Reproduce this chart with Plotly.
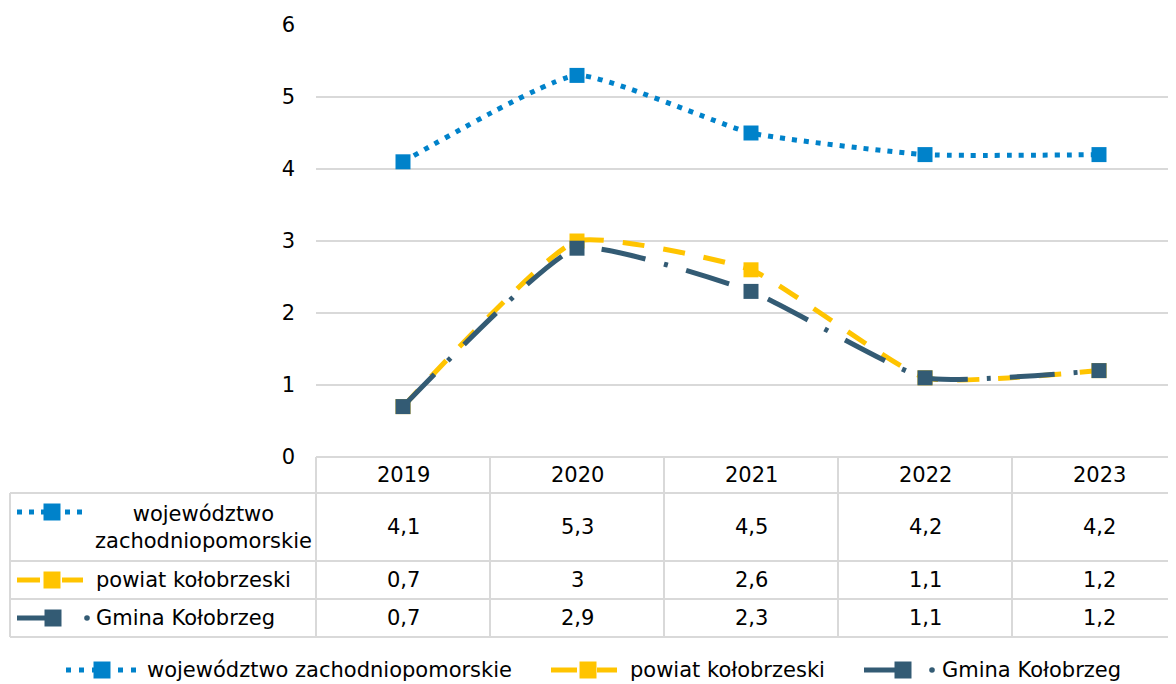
import plotly.graph_objects as go

# ---------------- data ----------------
years = ["2019", "2020", "2021", "2022", "2023"]
series_names = ["województwo zachodniopomorskie", "powiat kołobrzeski", "Gmina Kołobrzeg"]
table_labels = ["województwo<br>zachodniopomorskie", "powiat kołobrzeski", "Gmina Kołobrzeg"]
woj = [4.1, 5.3, 4.5, 4.2, 4.2]
powiat = [0.7, 3.0, 2.6, 1.1, 1.2]
gmina = [0.7, 2.9, 2.3, 1.1, 1.2]
y_ticks = [0, 1, 2, 3, 4, 5, 6]

# ---------------- styles ----------------
FONT = "DejaVu Sans"
FS = 21
BLUE = "#0082CA"
YELLOW = "#FFC400"
DARK = "#335B74"
GRID = "#D9D9D9"

OFF = 8  # page body margin
W, H = 1176 - OFF, 684 - OFF
L, R, T, B = 316 - OFF, 0, 25 - OFF, 227
PW, PH = W - L - R, H - T - B
CAT_PX = 174.0
XR = [-0.5, -0.5 + PW / CAT_PX]

# helpers take coordinates in screen pixels (page)
def px(x):
    return (x - OFF - L) / PW


def py(y):
    return (T + PH - (y - OFF)) / PH


def cat_paper(i):
    return (i - XR[0]) / (XR[1] - XR[0])


def cat_px(i):
    return OFF + L + (i - XR[0]) * CAT_PX


def fmt(v):
    return f"{v:g}".replace(".", ",")


series = [woj, powiat, gmina]
colors = [BLUE, YELLOW, DARK]
dashes = ["5px,7px", "22px,19px", "45px,19px,4px,19px"]

fig = go.Figure()
for name, vals, c, d in zip(series_names, series, colors, dashes):
    fig.add_trace(go.Scatter(
        x=years, y=vals, name=name, mode="lines+markers",
        line=dict(color=c, width=5, dash=d, shape="spline", smoothing=0.45),
        marker=dict(symbol="square", size=15, color=c),
        showlegend=False, cliponaxis=False,
    ))

shapes = []
annotations = []


def hline(x0, x1, y, color=GRID, width=2):
    shapes.append(dict(type="line", xref="paper", yref="paper",
                       x0=px(x0), x1=px(x1), y0=py(y), y1=py(y),
                       line=dict(color=color, width=width)))


def vline(x, y0, y1, color=GRID, width=2):
    shapes.append(dict(type="line", xref="paper", yref="paper",
                       x0=px(x), x1=px(x), y0=py(y0), y1=py(y1),
                       line=dict(color=color, width=width)))


def seg(x0, x1, y, color, width=5, dash="solid"):
    shapes.append(dict(type="line", xref="paper", yref="paper",
                       x0=px(x0), x1=px(x1), y0=py(y), y1=py(y),
                       line=dict(color=color, width=width, dash=dash)))


def square(cx, cy, color, s=17):
    shapes.append(dict(type="rect", xref="paper", yref="paper",
                       x0=px(cx - s / 2), x1=px(cx + s / 2),
                       y0=py(cy + s / 2), y1=py(cy - s / 2),
                       fillcolor=color, line=dict(width=0)))


def dot(cx, cy, color, r=2.8):
    shapes.append(dict(type="circle", xref="paper", yref="paper",
                       x0=px(cx - r), x1=px(cx + r), y0=py(cy + r), y1=py(cy - r),
                       fillcolor=color, line=dict(width=0)))


def text_at(xp, y, t, anchor="left", align="left"):
    annotations.append(dict(xref="paper", yref="paper", x=xp, y=py(y), text=t,
                            showarrow=False, xanchor=anchor, yanchor="middle", align=align,
                            font=dict(family=FONT, size=FS, color="#000000")))


def text(x, y, t, anchor="left", align="left"):
    text_at(px(x), y, t, anchor, align)


# ---------------- data table ----------------
row_edges = [457, 493, 561, 599, 637]
row_centers = [527, 580, 618]
header_center = 475
TABLE_LEFT = 10

hline(316, 1176, row_edges[0])
for yy in row_edges[1:]:
    hline(TABLE_LEFT, 1176, yy)
vline(TABLE_LEFT, row_edges[1], row_edges[-1])
for i in range(len(years)):
    vline(cat_px(i - 0.5), row_edges[0], row_edges[-1])

for i, yr in enumerate(years):
    text_at(cat_paper(i), header_center, yr, anchor="center", align="center")
for vals, yc in zip(series, row_centers):
    for i, v in enumerate(vals):
        text_at(cat_paper(i), yc, fmt(v), anchor="center", align="center")

text(203, row_centers[0], table_labels[0], anchor="center", align="center")
text(94, row_centers[1], table_labels[1])
text(94, row_centers[2], table_labels[2])

# table keys
k1 = 512
seg(17, 86, k1, BLUE, dash="5px,7px")
square(52, k1, BLUE)
k2 = row_centers[1]
seg(17, 40, k2, YELLOW)
seg(62, 83, k2, YELLOW)
square(52, k2, YELLOW)
k3 = row_centers[2]
seg(17, 55, k3, DARK)
square(53, k3, DARK)
dot(87, k3, DARK)

# ---------------- bottom legend ----------------
LY = 670
seg(66, 137, LY, BLUE, dash="5px,8px")
square(102, LY, BLUE)
text(145, LY, series_names[0])
seg(551, 577, LY, YELLOW)
seg(597, 617, LY, YELLOW)
square(588, LY, YELLOW)
text(628, LY, series_names[1])
seg(864, 900, LY, DARK)
square(903, LY, DARK)
dot(932, LY, DARK)
text(940, LY, series_names[2])

fig.update_layout(
    width=W, height=H,
    margin=dict(l=L, r=R, t=T, b=B, pad=0),
    paper_bgcolor="white", plot_bgcolor="white",
    font=dict(family=FONT, size=FS, color="#000000"),
    showlegend=False,
    shapes=shapes,
    annotations=annotations,
    xaxis=dict(type="category", range=XR, showgrid=False, showline=False,
               zeroline=False, showticklabels=False, ticks=""),
    yaxis=dict(range=[0, 6], tickvals=y_ticks, ticktext=[str(t) for t in y_ticks],
               showgrid=True, gridcolor=GRID, gridwidth=2, zeroline=False,
               showline=False, ticks="", ticklabelstandoff=20,
               tickfont=dict(family=FONT, size=FS, color="#000000")),
)

fig.write_html("out.html")
